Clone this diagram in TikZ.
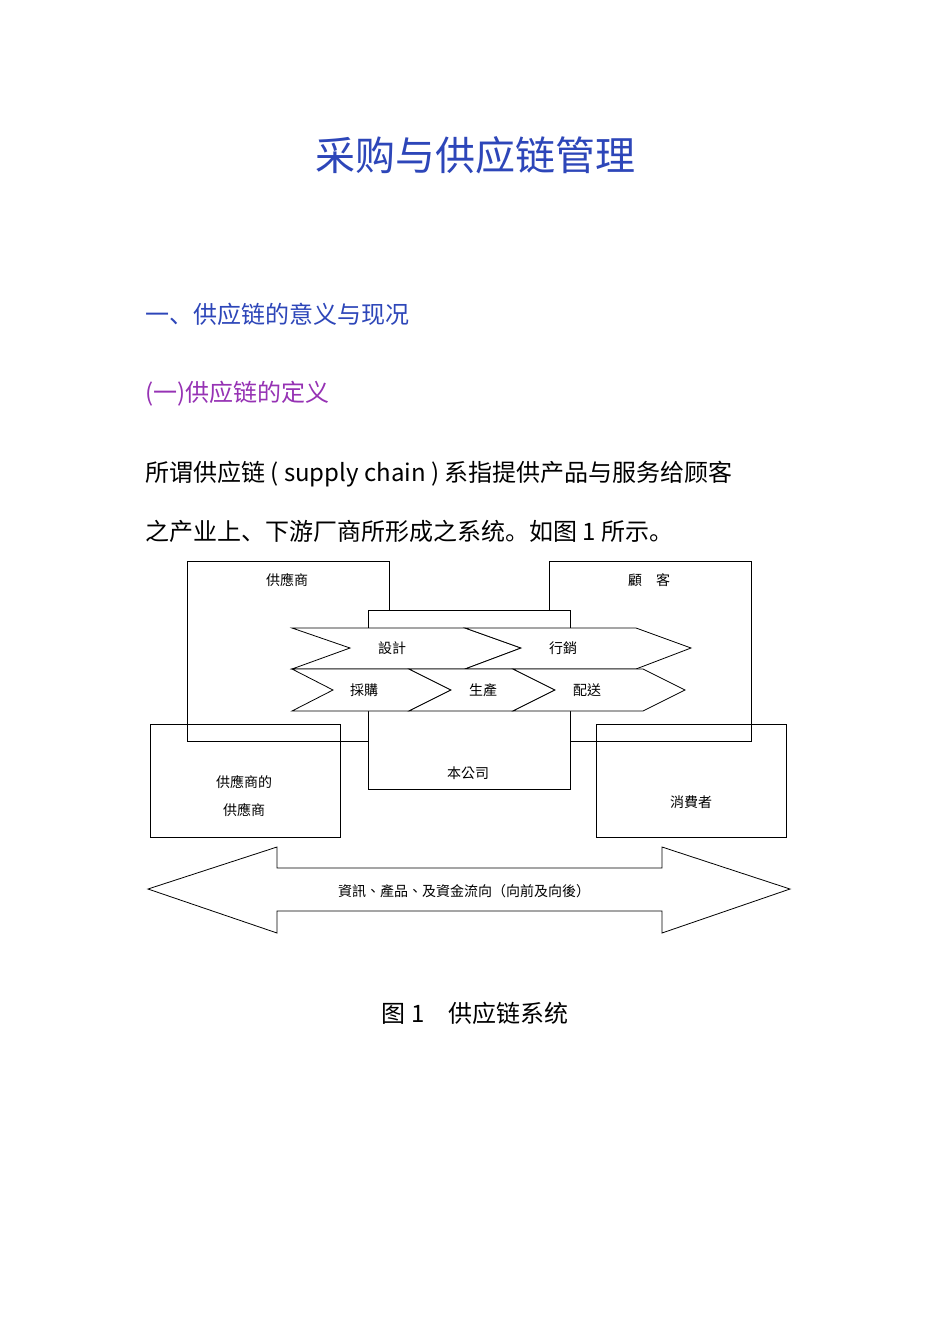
\documentclass[tikz,border=0pt]{standalone}
\usepackage{fontspec}
\setmainfont{Noto Sans CJK SC}
\newfontfamily\tcfont{Noto Sans CJK TC}
\begin{document}
\begin{tikzpicture}[x=1pt,y=-1pt,
  box/.style={draw,line width=0.8pt,anchor=north west,inner sep=0pt},
  lbl/.style={font=\tcfont\fontsize{14}{16}\selectfont,inner sep=0pt},
  shp/.style={draw,line width=0.8pt,fill=white,line join=miter}]
\useasboundingbox[fill=white] (0,0) rectangle (950,1344);
\definecolor{tblue}{RGB}{45,70,185}
\definecolor{tpurple}{RGB}{150,50,180}
\node[text=tblue,font=\fontsize{40}{44}\selectfont] (title) at (475,155) {采购与供应链管理};
\node[text=tblue,font=\fontsize{24}{28}\selectfont,anchor=west,inner sep=0pt] (h1) at (145,314) {一、供应链的意义与现况};
\node[text=tpurple,font=\fontsize{24}{28}\selectfont,anchor=west,inner sep=0pt] (h2) at (145,394) {(一)供应链的定义};
\node[font=\fontsize{24}{28}\selectfont,anchor=west,inner sep=0pt] (p1) at (145,474) {所谓供应链 ( supply chain ) 系指提供产品与服务给顾客};
\node[font=\fontsize{24}{28}\selectfont,anchor=west,inner sep=0pt] (p2) at (145,531) {之产业上、下游厂商所形成之系统。如图 1 所示。};
% boxes
\node[box,minimum width=202pt,minimum height=180pt] (sup) at (187,561) {};
\node[box,minimum width=202pt,minimum height=180pt] (cus) at (549,561) {};
\node[box,fill=white,minimum width=202pt,minimum height=179pt] (com) at (368,610) {};
\node[lbl] at (287,580) {供應商};
\node[lbl] at (649,580) {顧\quad 客};
\node[lbl] at (468,773) {本公司};
% chevrons
\draw[shp] (292,628) -- (465,628) -- (521,648) -- (465,669) -- (292,669) -- (350,648) -- cycle;
\draw[shp] (465,628) -- (636,628) -- (691,648) -- (636,669) -- (465,669) -- (521,648) -- cycle;
\draw[shp] (292,669) -- (409,669) -- (451,690) -- (409,711) -- (292,711) -- (333,690) -- cycle;
\draw[shp] (409,669) -- (513,669) -- (555,690) -- (513,711) -- (409,711) -- (451,690) -- cycle;
\draw[shp] (513,669) -- (643,669) -- (685,690) -- (643,711) -- (513,711) -- (555,690) -- cycle;
\node[lbl] (d1) at (392,648) {設計};
\node[lbl] (d2) at (563,648) {行銷};
\node[lbl] (d3) at (364,690) {採購};
\node[lbl] (d4) at (483,690) {生產};
\node[lbl] (d5) at (587,690) {配送};
% lower boxes
\node[box,minimum width=190pt,minimum height=113pt] (ss) at (150,724) {};
\node[box,minimum width=190pt,minimum height=113pt] (con) at (596,724) {};
\node[lbl,align=center] at (244,796) {供應商的\\[12pt]供應商};
\node[lbl] at (691,802) {消費者};
% double arrow
\draw[shp] (148,889) -- (277,847) -- (277,868) -- (662,868) -- (662,847) -- (790,889) -- (662,933) -- (662,911) -- (277,911) -- (277,933) -- cycle;
\node[lbl] (flow) at (464,891) {資訊、產品、及資金流向（向前及向後）};
\node[font=\fontsize{24}{28}\selectfont] (cap) at (475,1013) {图 1\quad 供应链系统};
\end{tikzpicture}
\end{document}
